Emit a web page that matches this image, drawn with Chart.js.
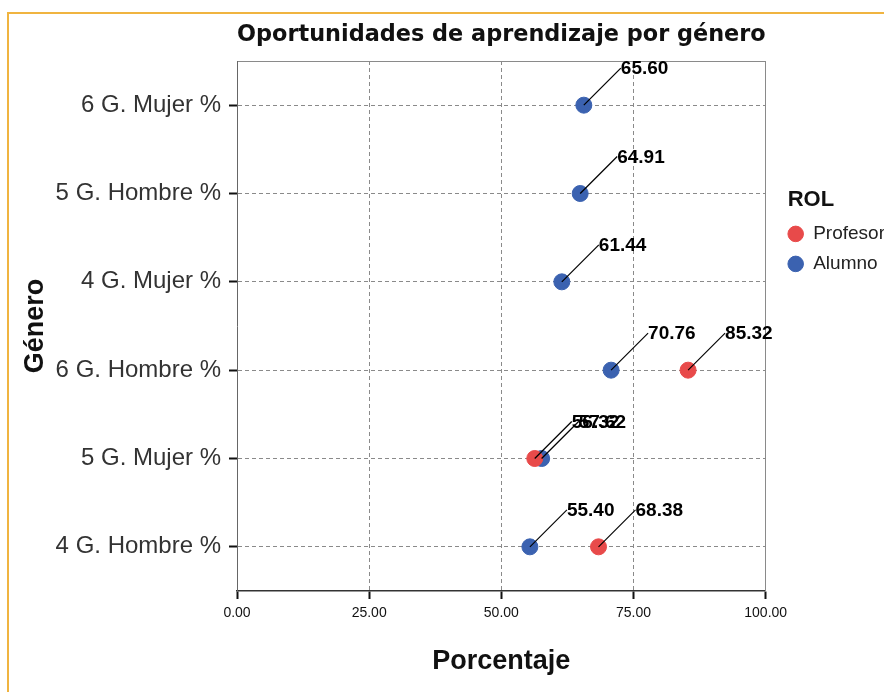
<!DOCTYPE html>
<html>
<head>
<meta charset="utf-8">
<script src="https://cdn.jsdelivr.net/npm/chart.js@4.4.0/dist/chart.umd.min.js"></script>
<style>
html, body { margin: 0; padding: 0; background: #fff; overflow: hidden; }
#wrap { position: relative; width: 884px; height: 692px; }
#frame { position: absolute; left: 7px; top: 12px; width: 900px; height: 700px; border-top: 2px solid #f0b440; border-left: 2px solid #f0b440; }
canvas { position: absolute; left: 0; top: 0; }
</style>
</head>
<body>
<div id="wrap"><div id="frame"></div><canvas id="myChart" width="884" height="692"></canvas></div>
<script>
var categories = ['6 G. Mujer %', '5 G. Hombre %', '4 G. Mujer %', '6 G. Hombre %', '5 G. Mujer %', '4 G. Hombre %'];
var profesor = [null, null, null, 85.32, 56.32, 68.38];
var alumno = [65.60, 64.91, 61.44, 70.76, 57.62, 55.40];
var xTicks = [0, 25, 50, 75, 100];

Chart.defaults.font.family = "'Liberation Sans', Arial, sans-serif";

// value labels with a short leader line, like the SPSS output
var valueLabels = {
  id: 'valueLabels',
  afterDatasetsDraw: function(chart) {
    var ctx = chart.ctx;
    ctx.save();
    chart.data.datasets.forEach(function(ds, i) {
      var meta = chart.getDatasetMeta(i);
      meta.data.forEach(function(pt, j) {
        var v = ds.data[j];
        if (v === null || v === undefined) return;
        ctx.strokeStyle = '#000';
        ctx.lineWidth = 1.2;
        ctx.beginPath();
        ctx.moveTo(pt.x, pt.y);
        ctx.lineTo(pt.x + 37, pt.y - 37);
        ctx.stroke();
        ctx.fillStyle = '#000';
        ctx.font = "bold 19px 'Liberation Sans', Arial";
        ctx.textAlign = 'left';
        ctx.textBaseline = 'middle';
        ctx.fillText(v.toFixed(2), pt.x + 37, pt.y - 36);
      });
    });
    ctx.restore();
  }
};

var ctx = document.getElementById('myChart').getContext('2d');
var myChart = new Chart(ctx, {
  type: 'line',
  data: {
    labels: categories,
    datasets: [{
      label: 'Profesor',
      data: profesor,
      showLine: false,
      pointRadius: 8,
      pointHoverRadius: 8,
      pointBorderWidth: 1,
      backgroundColor: '#e84a4a',
      borderColor: '#e84a4a'
    }, {
      label: 'Alumno',
      data: alumno,
      showLine: false,
      pointRadius: 8,
      pointHoverRadius: 8,
      pointBorderWidth: 1,
      backgroundColor: '#3b62b0',
      borderColor: '#3b62b0'
    }]
  },
  options: {
    indexAxis: 'y',
    responsive: false,
    animation: false,
    layout: { padding: { right: -11 } },
    scales: {
      x: {
        type: 'linear',
        position: 'bottom',
        min: 0,
        max: 100,
        afterBuildTicks: function(s) { s.ticks = xTicks.map(function(v) { return { value: v }; }); },
        ticks: { callback: function(v) { return v.toFixed(2); }, color: '#111', font: { size: 14 }, padding: 6, maxRotation: 0 },
        grid: { color: '#8a8a8a', tickColor: '#111', tickWidth: 2, tickLength: 8 },
        border: { color: '#333', width: 1.5, dash: [4, 3] },
        title: { display: true, text: 'Porcentaje', color: '#111', font: { size: 27, weight: 'bold' }, padding: { top: 0, bottom: 14 } },
        afterFit: function(s) { s.height = 101; }
      },
      x2: {
        type: 'linear',
        position: 'top',
        min: 0,
        max: 100,
        ticks: { display: false },
        grid: { display: false, drawTicks: false },
        border: { color: '#8a8a8a', width: 1 },
        title: { display: true, text: 'Oportunidades de aprendizaje por género', color: '#111', font: { family: "'DejaVu Sans', sans-serif", size: 23, weight: 'bold' }, padding: { top: 21, bottom: 0 } },
        afterFit: function(s) { s.height = 61; }
      },
      y: {
        type: 'category',
        position: 'left',
        offset: true,
        grid: { offset: false, color: '#8a8a8a', tickColor: '#111', tickWidth: 2, tickLength: 8 },
        border: { color: '#666', width: 1, dash: [4, 3] },
        ticks: { color: '#333', font: { size: 24 }, padding: 8 },
        title: { display: true, text: 'Género', color: '#111', font: { size: 27, weight: 'bold' }, padding: { top: 19, bottom: 0 } },
        afterFit: function(s) { s.width = 237; }
      },
      y2: {
        type: 'linear',
        position: 'right',
        ticks: { display: false },
        grid: { display: false, drawTicks: false },
        border: { color: '#8a8a8a', width: 1 },
        afterFit: function(s) { s.width = 11; }
      }
    },
    plugins: {
      tooltip: { enabled: false },
      legend: {
        position: 'right',
        align: 'start',
        title: { display: true, text: '\u2002ROL', color: '#111', position: 'start', font: { size: 22, weight: 'bold' }, padding: { top: 189, bottom: -2 } },
        labels: { usePointStyle: true, pointStyle: 'circle', boxWidth: 16, boxHeight: 11, padding: 11, color: '#222', font: { size: 19 } }
      }
    }
  },
  plugins: [valueLabels]
});
</script>
</body>
</html>
